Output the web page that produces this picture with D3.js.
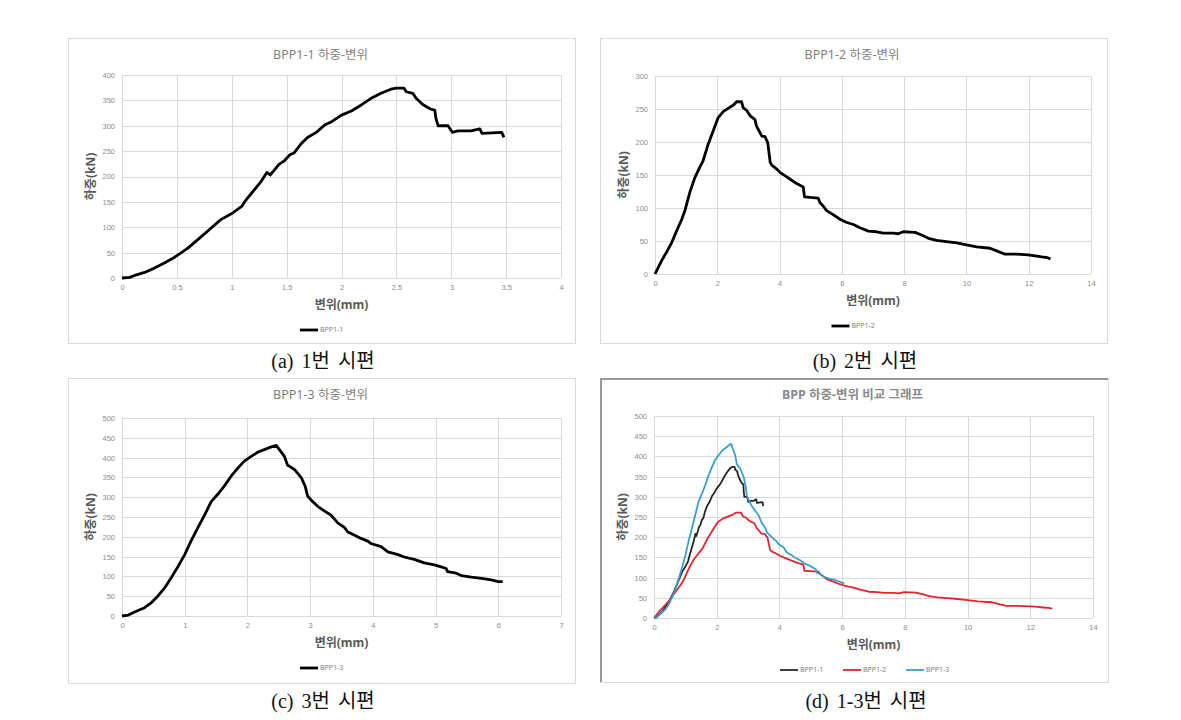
<!DOCTYPE html>
<html>
<head>
<meta charset="utf-8">
<script src="https://cdn.jsdelivr.net/npm/d3@7"></script>
<style>
  body { margin: 0; background: #fff; }
  svg { display: block; font-family: "Noto Sans", "Noto Sans CJK KR", sans-serif; }
  .frame { fill: #fff; stroke: #d9d9d9; stroke-width: 1; }
  .grid line { stroke: #d9d9d9; stroke-width: 1; shape-rendering: crispEdges; }
  .axis text { fill: #8c8c8c; font-size: 7.5px; }
  .axis path, .axis line { display: none; }
  .chart-title { fill: #7f7f7f; font-size: 12.5px; text-anchor: middle; }
  .chart-title.bold { font-weight: bold; fill: #8a8a8a; }
  .axis-title { fill: #595959; font-size: 12px; font-weight: bold; text-anchor: middle; }
  .legend-text { fill: #7f7f7f; font-size: 7px; }
  .caption { fill: #111; font-size: 20px; font-family: "Liberation Serif", "Noto Sans CJK KR", serif; text-anchor: middle; word-spacing: 3px; }
</style>
</head>
<body>
<svg id="page" width="1181" height="720"></svg>
<script>
// BPP1-1 displacement (mm) / load (kN)
const disp11 = [0,0.07,0.115,0.206,0.30,0.39,0.48,0.60,0.72,0.81,0.90,1.0,1.09,1.12,1.18,1.27,1.32,1.35,1.39,1.43,1.48,1.53,1.57,1.63,1.69,1.77,1.85,1.91,2.0,2.09,2.18,2.27,2.36,2.45,2.50,2.57,2.59,2.65,2.68,2.74,2.81,2.85,2.86,2.88,2.97,3.01,3.06,3.18,3.26,3.28,3.46,3.47,3.48];
const load11 = [0,1.3,5,11,20,30,41,59,81,98,115,127,141,151,167,191,208,203,213,224,231,243,247,264,277,287,302,308,321,329,341,354,364,372,374,374,367,364,354,342,333,331,315,300,300,287,290,290,294,285,287,282,277];

// BPP1-2
const disp12 = [0,0.21,0.37,0.54,0.70,0.86,0.96,1.12,1.28,1.44,1.54,1.71,1.87,2.03,2.19,2.35,2.52,2.62,2.78,2.83,2.94,3.05,3.21,3.26,3.43,3.53,3.62,3.70,3.75,3.91,4.01,4.17,4.33,4.55,4.76,4.80,4.98,5.24,5.30,5.40,5.51,5.72,5.94,6.16,6.37,6.58,6.85,7.12,7.33,7.65,7.81,7.97,8.35,8.56,8.78,9.04,9.36,9.69,10.0,10.33,10.76,10.97,11.24,11.61,11.99,12.15,12.42,12.58,12.70];
const load12 = [0,20,33,48,66,83,96,124,146,162,171,197,217,237,246,251,256,261,261,252,248,240,234,224,209,208,199,169,165,159,154,149,144,137,132,117,116,115,108,103,96,90,83,78,75,70,65,64,62,62,61,64,63,59,54,51,49,47,44,41,39,35,30,30,29,28,26,25,23];

// BPP1-3
const disp13 = [0,0.10,0.20,0.36,0.47,0.57,0.68,0.79,0.89,1.0,1.10,1.21,1.32,1.42,1.53,1.63,1.74,1.85,1.95,2.06,2.17,2.27,2.38,2.46,2.51,2.59,2.64,2.75,2.86,2.92,2.96,3.02,3.12,3.23,3.33,3.44,3.55,3.60,3.71,3.81,3.92,3.97,4.13,4.24,4.40,4.50,4.66,4.82,4.98,5.09,5.17,5.19,5.33,5.41,5.57,5.73,5.89,6.0,6.07];
const load13 = [0,2.5,10,21,34,50,71,98,124,155,189,223,256,288,308,328,353,374,391,403,414,420,427,431,420,403,381,370,349,328,303,292,277,265,255,235,223,212,204,196,189,183,175,162,155,149,143,134,129,124,120,112,108,102,98,95,91,87,87];

const seriesNames = ['BPP1-1', 'BPP1-2', 'BPP1-3'];
const seriesColors = ['#262626', '#e3242b', '#3a9fd0'];
const captions = ['(a) 1번 시편', '(b) 2번 시편', '(c) 3번 시편', '(d) 1-3번 시편'];

const xTicksA = [0, 0.5, 1, 1.5, 2, 2.5, 3, 3.5, 4];
const yTicksA = [0, 50, 100, 150, 200, 250, 300, 350, 400];
const xTicksB = [0, 2, 4, 6, 8, 10, 12, 14];
const yTicksB = [0, 50, 100, 150, 200, 250, 300];
const xTicksC = [0, 1, 2, 3, 4, 5, 6, 7];
const yTicksC = [0, 50, 100, 150, 200, 250, 300, 350, 400, 450, 500];

const toPoints = (xs, ys) => xs.map((x, i) => ({x: x, y: ys[i]}));
const s11 = toPoints(disp11, load11);
const s12 = toPoints(disp12, load12);
const s13 = toPoints(disp13, load13);

class LoadDisplacementChart {

  constructor(_config, _series) {
    this.config = {
      parent: _config.parent,
      x: _config.x, y: _config.y,
      width: _config.width, height: _config.height,
      plot: _config.plot,            // plot area relative to the panel
      title: _config.title,
      xTicks: _config.xTicks, yTicks: _config.yTicks,
      lineWidth: _config.lineWidth || 2.8,
      frameStyle: _config.frameStyle || 'light'
    };
    this.series = _series;
    this.initVis();
  }

  initVis() {
    let vis = this;
    const c = vis.config;

    vis.g = c.parent.append('g')
        .attr('transform', `translate(${c.x},${c.y})`);

    vis.g.append('rect')
        .attr('class', 'frame')
        .attr('x', 0.5).attr('y', 0.5)
        .attr('width', c.width).attr('height', c.height);

    if (c.frameStyle === 'dark') {
      vis.g.append('path')
          .attr('d', `M1,${c.height} V1 H${c.width}`)
          .attr('fill', 'none')
          .attr('stroke', '#9a9a9a')
          .attr('stroke-width', 2);
    }

    vis.width = c.plot.w;
    vis.height = c.plot.h;

    vis.xScale = d3.scaleLinear()
        .domain(d3.extent(c.xTicks))
        .range([0, vis.width]);
    vis.yScale = d3.scaleLinear()
        .domain(d3.extent(c.yTicks))
        .range([vis.height, 0]);

    vis.chart = vis.g.append('g')
        .attr('transform', `translate(${c.plot.l},${c.plot.t})`);

    // gridlines
    const grid = vis.chart.append('g').attr('class', 'grid');
    grid.selectAll('.gx').data(c.xTicks).join('line')
        .attr('x1', d => Math.round(vis.xScale(d)) + 0.5)
        .attr('x2', d => Math.round(vis.xScale(d)) + 0.5)
        .attr('y1', 0).attr('y2', vis.height);
    grid.selectAll('.gy').data(c.yTicks).join('line')
        .attr('x1', 0).attr('x2', vis.width)
        .attr('y1', d => Math.round(vis.yScale(d)) + 0.5)
        .attr('y2', d => Math.round(vis.yScale(d)) + 0.5);

    vis.xAxis = d3.axisBottom(vis.xScale).tickValues(c.xTicks)
        .tickFormat(d => String(d)).tickSize(0).tickPadding(7);
    vis.yAxis = d3.axisLeft(vis.yScale).tickValues(c.yTicks)
        .tickFormat(d => String(d)).tickSize(0).tickPadding(7);

    vis.chart.append('g')
        .attr('class', 'axis x-axis')
        .attr('transform', `translate(0,${vis.height})`)
        .call(vis.xAxis);
    vis.chart.append('g')
        .attr('class', 'axis y-axis')
        .call(vis.yAxis);

    // titles
    vis.g.append('text')
        .attr('class', c.frameStyle === 'dark' ? 'chart-title bold' : 'chart-title')
        .attr('x', c.plot.l + vis.width / 2 - 21)
        .attr('y', 21)
        .text(c.title);

    vis.g.append('text')
        .attr('class', 'axis-title')
        .attr('x', c.plot.l + vis.width / 2)
        .attr('y', c.plot.t + vis.height + 31)
        .text('변위(mm)');

    vis.g.append('text')
        .attr('class', 'axis-title')
        .attr('transform', `translate(${c.plot.l - 27},${c.plot.t + vis.height / 2}) rotate(-90)`)
        .text('하중(kN)');

    vis.renderVis();
  }

  renderVis() {
    let vis = this;
    const c = vis.config;

    const line = d3.line()
        .x(d => vis.xScale(d.x))
        .y(d => vis.yScale(d.y));

    vis.chart.selectAll('.curve')
        .data(vis.series)
      .join('path')
        .attr('class', 'curve')
        .attr('fill', 'none')
        .attr('stroke', d => d.color)
        .attr('stroke-width', c.lineWidth)
        .attr('stroke-linejoin', 'round')
        .attr('d', d => line(d.values));

    // legend, centred under the plot
    const itemW = 63;
    const legendY = c.plot.t + vis.height + 52;
    const startX = c.plot.l + vis.width / 2 - 41.5 - (vis.series.length - 1) * 26;
    const items = vis.g.selectAll('.legend-item')
        .data(vis.series)
      .join('g')
        .attr('class', 'legend-item')
        .attr('transform', (d, i) => `translate(${startX + i * itemW},${legendY})`);
    items.append('line')
        .attr('x1', 0).attr('x2', 18)
        .attr('stroke', d => d.color)
        .attr('stroke-width', c.lineWidth);
    items.append('text')
        .attr('class', 'legend-text')
        .attr('x', 20).attr('dy', '0.35em')
        .text(d => d.name);
  }
}

const svg = d3.select('#page');

new LoadDisplacementChart({
  parent: svg, x: 68, y: 38, width: 507, height: 305,
  plot: {l: 54, t: 37, w: 439, h: 203},
  title: 'BPP1-1 하중-변위', xTicks: xTicksA, yTicks: yTicksA
}, [{name: seriesNames[0], color: '#000', values: s11}]);

new LoadDisplacementChart({
  parent: svg, x: 600, y: 38, width: 507, height: 305,
  plot: {l: 55, t: 38, w: 436, h: 198},
  title: 'BPP1-2 하중-변위', xTicks: xTicksB, yTicks: yTicksB
}, [{name: seriesNames[1], color: '#000', values: s12}]);

new LoadDisplacementChart({
  parent: svg, x: 68, y: 378, width: 507, height: 305,
  plot: {l: 54, t: 40, w: 439, h: 198},
  title: 'BPP1-3 하중-변위', xTicks: xTicksC, yTicks: yTicksC
}, [{name: seriesNames[2], color: '#000', values: s13}]);

new LoadDisplacementChart({
  parent: svg, x: 600, y: 378, width: 508, height: 304,
  plot: {l: 54, t: 38, w: 439, h: 202},
  title: 'BPP 하중-변위 비교 그래프', xTicks: xTicksB, yTicks: yTicksC,
  lineWidth: 1.8, frameStyle: 'dark'
}, [
  {name: seriesNames[0], color: seriesColors[0], values: s11},
  {name: seriesNames[1], color: seriesColors[1], values: s12},
  {name: seriesNames[2], color: seriesColors[2], values: s13}
]);

// figure captions
const capPos = [[323, 368], [865, 368], [323, 708], [866, 708]];
svg.selectAll('.caption')
    .data(captions)
  .join('text')
    .attr('class', 'caption')
    .attr('x', (d, i) => capPos[i][0])
    .attr('y', (d, i) => capPos[i][1])
    .text(d => d);
</script>
</body>
</html>
